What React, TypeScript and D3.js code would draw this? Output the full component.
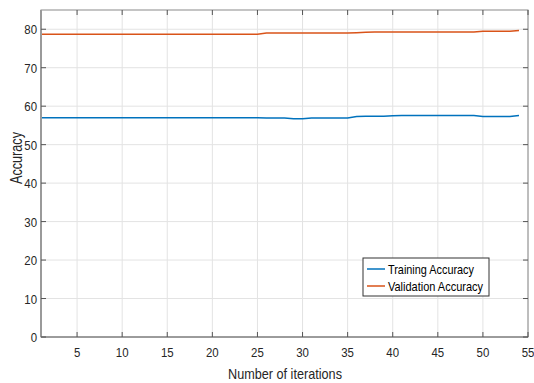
import React from "react";
import * as d3 from "d3";

const iterations = d3.range(1, 55);
const trainingAccuracy = [
  57.0, 57.0, 57.0, 57.0, 57.0, 57.0, 57.0, 57.0, 57.0, 57.0,
  57.0, 57.0, 57.0, 57.0, 57.0, 57.0, 57.0, 57.0, 57.0, 57.0,
  57.0, 57.0, 57.0, 57.0, 57.0, 56.9, 56.9, 56.9, 56.7, 56.7,
  56.9, 56.9, 56.9, 56.9, 56.9, 57.3, 57.4, 57.4, 57.4, 57.5,
  57.6, 57.6, 57.6, 57.6, 57.6, 57.6, 57.6, 57.6, 57.6, 57.3,
  57.3, 57.3, 57.3, 57.6,
];
const validationAccuracy = [
  78.7, 78.7, 78.7, 78.7, 78.7, 78.7, 78.7, 78.7, 78.7, 78.7,
  78.7, 78.7, 78.7, 78.7, 78.7, 78.7, 78.7, 78.7, 78.7, 78.7,
  78.7, 78.7, 78.7, 78.7, 78.7, 79.0, 79.0, 79.0, 79.0, 79.0,
  79.0, 79.0, 79.0, 79.0, 79.0, 79.1, 79.2, 79.3, 79.3, 79.3,
  79.3, 79.3, 79.3, 79.3, 79.3, 79.3, 79.3, 79.3, 79.3, 79.5,
  79.5, 79.5, 79.5, 79.7,
];
const xTicks = [5, 10, 15, 20, 25, 30, 35, 40, 45, 50, 55];
const yTicks = [0, 10, 20, 30, 40, 50, 60, 70, 80];
const seriesNames = ["Training Accuracy", "Validation Accuracy"];
const colors = ["#0072BD", "#D95319"];

export default function App() {
  const W = 534, H = 383;
  const left = 41, right = 528, top = 10, bottom = 337;
  const x = d3.scaleLinear().domain([1, 55]).range([left, right]);
  const y = d3.scaleLinear().domain([0, 85]).range([bottom, top]);
  const line = d3.line<number>().x((_, i) => x(iterations[i])).y((d) => y(d)).curve(d3.curveLinear);
  const font = "'Liberation Sans', Arial, sans-serif";
  const axisColor = "#8a8a8a";
  const series = [trainingAccuracy, validationAccuracy];
  const lg = { x: 363, y: 258, w: 126, h: 38 };
  const ylx = 37;
  return (
    <svg width={W} height={H} style={{ position: "absolute", left: 0, top: 0, background: "#fff" }}>
      <rect x={0} y={0} width={W} height={H} fill="#fff" />
      {xTicks.map((t) => (
        <line key={"gx" + t} x1={x(t)} x2={x(t)} y1={top} y2={bottom} stroke="#e3e3e3" strokeWidth={1} />
      ))}
      {yTicks.map((t) => (
        <line key={"gy" + t} x1={left} x2={right} y1={y(t)} y2={y(t)} stroke="#e3e3e3" strokeWidth={1} />
      ))}
      {series.map((s, i) => (
        <path key={"s" + i} d={line(s) || ""} fill="none" stroke={colors[i]} strokeWidth={1.5} />
      ))}
      <rect x={left} y={top} width={right - left} height={bottom - top} fill="none" stroke={axisColor} strokeWidth={1} />
      <line x1={left} x2={left} y1={top} y2={bottom} stroke="#9a9a9a" strokeWidth={2} />
      <line x1={left} x2={right} y1={bottom} y2={bottom} stroke="#7a7a7a" strokeWidth={1.2} />
      {xTicks.map((t) => (
        <g key={"tx" + t}>
          <line x1={x(t)} x2={x(t)} y1={bottom} y2={bottom - 5} stroke="#555" strokeWidth={1} />
          <line x1={x(t)} x2={x(t)} y1={top} y2={top + 5} stroke="#555" strokeWidth={1} />
          <text x={x(t)} y={bottom + 20} textAnchor="middle" fontFamily={font} fontSize={13} fill="#262626" transform={`translate(${x(t)},0) scale(0.88,1) translate(${-x(t)},0)`}>
            {t}
          </text>
        </g>
      ))}
      {yTicks.map((t) => (
        <g key={"ty" + t}>
          <line x1={left} x2={left + 5} y1={y(t)} y2={y(t)} stroke="#555" strokeWidth={1} />
          <line x1={right} x2={right - 5} y1={y(t)} y2={y(t)} stroke="#555" strokeWidth={1} />
          <text x={ylx} y={y(t) + 5} textAnchor="end" fontFamily={font} fontSize={13} fill="#262626" transform={`translate(${ylx},0) scale(0.88,1) translate(${-ylx},0)`}>
            {t}
          </text>
        </g>
      ))}
      <text x={285} y={379} textAnchor="middle" fontFamily={font} fontSize={15} fill="#262626" textLength={114} lengthAdjust="spacingAndGlyphs">
        Number of iterations
      </text>
      <text transform={`translate(22,${158}) rotate(-90)`} textAnchor="middle" fontFamily={font} fontSize={16} fill="#262626" textLength={52} lengthAdjust="spacingAndGlyphs">
        Accuracy
      </text>
      <rect x={lg.x} y={lg.y} width={lg.w} height={lg.h} fill="#fff" stroke="#333" strokeWidth={1} />
      {seriesNames.map((n, i) => (
        <g key={"lg" + i}>
          <line x1={lg.x + 4} x2={lg.x + 22} y1={lg.y + 11 + i * 17} y2={lg.y + 11 + i * 17} stroke={colors[i]} strokeWidth={1.5} />
          <text x={lg.x + 25} y={lg.y + 16 + i * 17} fontFamily={font} fontSize={13} fill="#000" textLength={i === 0 ? 86 : 95} lengthAdjust="spacingAndGlyphs">
            {n}
          </text>
        </g>
      ))}
    </svg>
  );
}
